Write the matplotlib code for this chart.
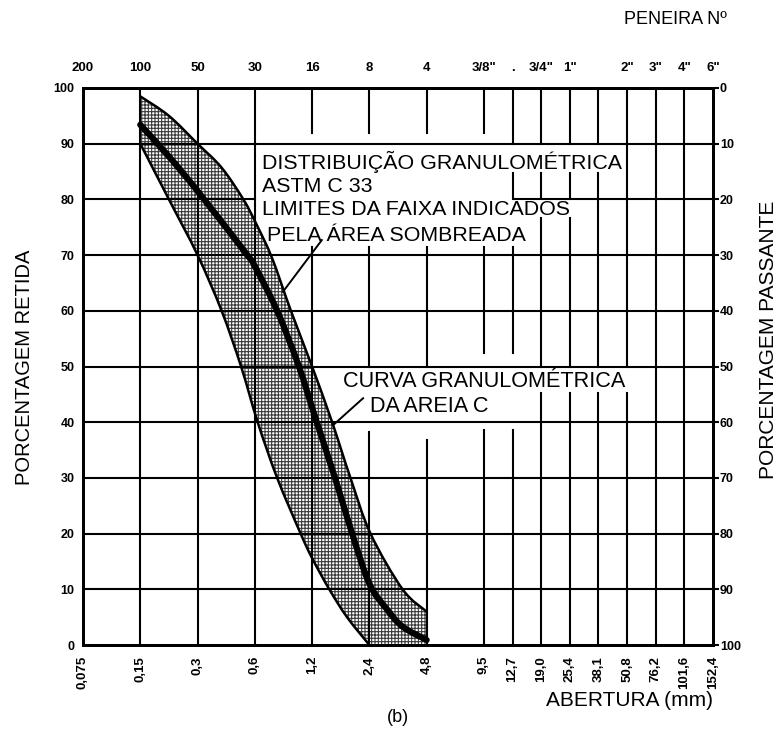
import matplotlib
matplotlib.use('Agg')
import matplotlib.pyplot as plt
from matplotlib.path import Path
from matplotlib.patches import PathPatch

plt.rcParams['font.family'] = ['Liberation Sans', 'DejaVu Sans']
plt.rcParams['hatch.linewidth'] = 0.8

# Aberturas das peneiras (mm) e numeracao ASTM correspondente
aberturas = ['0,075', '0,15', '0,3', '0,6', '1,2', '2,4', '4,8', '9,5', '12,7',
             '19,0', '25,4', '38,1', '50,8', '76,2', '101,6', '152,4']
peneiras = ['200', '100', '50', '30', '16', '8', '4', '3/8"', '.', '3/4"', '1"',
            '', '2"', '3"', '4"', '6"']
# posicao de cada peneira no eixo horizontal do grafico
posicoes = [0, 1, 2, 3, 4, 5, 6, 7, 7.5, 8, 8.5, 9, 9.5, 10, 10.5, 11]

# Limites da faixa ASTM C 33 (porcentagem retida acumulada)
sup_x = [1, 1.5, 2, 2.42, 2.8, 3.03, 3.3, 3.63, 4.0, 4.35, 4.67, 5.02, 5.58, 6]
sup_y = [98.5, 95, 90, 85.7, 80, 75.5, 69.5, 60, 50, 40, 30, 20, 10, 6]
inf_x = [1, 1.5, 2, 2.42, 2.76, 3.05, 3.39, 3.8, 4.0, 4.3, 4.61, 5]
inf_y = [90, 80, 70, 60, 50, 40, 30, 20, 15.6, 10, 5, 0]

# Curva granulometrica da areia C
areia_x = [1, 1.5, 2, 2.87, 3, 3.39, 3.77, 4.05, 4.4, 4.7, 5, 5.3, 5.58, 6]
areia_y = [93.4, 87.7, 81.5, 70, 68, 60, 50, 41, 30, 20, 11, 6.5, 3.3, 0.9]


def curva_suave(xs, ys):
    """Vertices e codigos de uma curva Bezier (Catmull-Rom) pelos pontos."""
    pts = list(zip(xs, ys))
    verts = [pts[0]]
    codes = [Path.MOVETO]
    for i in range(len(pts) - 1):
        p0 = pts[i - 1] if i > 0 else pts[i]
        p1, p2 = pts[i], pts[i + 1]
        p3 = pts[i + 2] if i + 2 < len(pts) else p2
        c1 = (p1[0] + (p2[0] - p0[0]) / 6, p1[1] + (p2[1] - p0[1]) / 6)
        c2 = (p2[0] - (p3[0] - p1[0]) / 6, p2[1] - (p3[1] - p1[1]) / 6)
        verts += [c1, c2, p2]
        codes += [Path.CURVE4] * 3
    return verts, codes


fig = plt.figure(figsize=(7.8, 7.33), dpi=100)
ax = fig.add_axes([83 / 780, 1 - 645 / 733, 630 / 780, 557 / 733])
ax.set_xlim(0, 11)
ax.set_ylim(0, 100)

# faixa sombreada: limite superior, desce em 4,8 mm e volta pelo limite inferior
v_sup, c_sup = curva_suave(sup_x, sup_y)
v_inf, c_inf = curva_suave(inf_x[::-1], inf_y[::-1])
verts = v_sup + [(6, 0)] + v_inf + [(0, 0)]
codes = c_sup + [Path.LINETO] + [Path.LINETO] + c_inf[1:] + [Path.CLOSEPOLY]
faixa = PathPatch(Path(verts, codes), facecolor='white', edgecolor='#3a3a3a',
                  hatch='+++++', linewidth=0, zorder=1)
ax.add_patch(faixa)

# grade: trechos visiveis das linhas verticais (interrompidas pelos textos)
cortes = {
    4: [(91.9, 100), (0, 71.4)],
    5: [(91.9, 100), (50, 71.4), (0, 38.2)],
    6: [(91.9, 100), (50, 71.4), (0, 36.8)],
    7: [(91.9, 100), (52.4, 71.4), (0, 38.6)],
    8: [(90, 100), (80.3, 84.7), (52.4, 71.4), (0, 38.6)],
    9: [(90, 100), (80.3, 84.7), (50, 76.7), (0, 45.2)],
    10: [(90, 100), (80.3, 84.7), (50, 76.7), (0, 45.2)],
    11: [(90, 100), (50, 84.7), (0, 45.2)],
    12: [(50, 100), (0, 45.2)],
}
for i, p in enumerate(posicoes[1:-1], start=1):
    for y0, y1 in cortes.get(i, [(0, 100)]):
        ax.plot([p, p], [y0, y1], color='black', lw=1.5, zorder=2)

for v in range(10, 100, 10):
    if v == 80:
        ax.plot([0, 3], [v, v], color='black', lw=1.5, zorder=2)
        ax.plot([7.5, 11], [v, v], color='black', lw=1.5, zorder=2)
    else:
        ax.plot([0, 11], [v, v], color='black', lw=1.5, zorder=2)

# limites e curva da areia
for xs, ys, lw in [(sup_x, sup_y, 1.8), (inf_x, inf_y, 1.8), (areia_x, areia_y, 4.5)]:
    vv, cc = curva_suave(xs, ys)
    ax.add_patch(PathPatch(Path(vv, cc), facecolor='none', edgecolor='black',
                           lw=lw, capstyle='round', zorder=3))

# textos e linhas de chamada
fs = 15.4
ax.text(3.13, 86.8, 'DISTRIBUIÇÃO GRANULOMÉTRICA', fontsize=fs, va='center')
ax.text(3.13, 82.3, 'ASTM C 33', fontsize=fs, va='center')
ax.text(3.13, 78.1, 'LIMITES DA FAIXA INDICADOS', fontsize=fs, va='center')
ax.text(3.21, 73.6, 'PELA ÁREA SOMBREADA', fontsize=fs, va='center')
ax.plot([4.17, 3.49], [72.7, 63.4], color='black', lw=1.4, zorder=3)

ax.text(4.54, 47.3, 'CURVA GRANULOMÉTRICA', fontsize=15.6, va='center')
ax.text(5.01, 42.8, 'DA AREIA C', fontsize=15.6, va='center')
ax.plot([4.89, 4.37], [44.3, 39.5], color='black', lw=1.4, zorder=3)

# eixo inferior: aberturas
ax.set_xticks(posicoes)
ax.set_xticklabels(aberturas, rotation=90, fontsize=9.5, fontweight='bold')
ax.set_yticks(range(0, 101, 10))
ax.set_yticklabels([str(v) for v in range(0, 101, 10)], fontsize=9, fontweight='bold')
ax.tick_params(axis='x', length=0, pad=8)
ax.tick_params(axis='y', length=0, pad=6)
for s in ax.spines.values():
    s.set_linewidth(2)

# eixo superior: numero da peneira
ax_top = ax.twiny()
ax_top.set_xlim(ax.get_xlim())
ax_top.set_xticks(posicoes)
ax_top.set_xticklabels(peneiras, fontsize=9.5, fontweight='bold')
ax_top.tick_params(axis='x', length=0, pad=10)

# eixo direito: porcentagem passante
ax_dir = ax.twinx()
ax_dir.set_ylim(100, 0)
ax_dir.set_yticks(range(0, 101, 10))
ax_dir.set_yticklabels([str(v) for v in range(0, 101, 10)], fontsize=9, fontweight='bold')
ax_dir.tick_params(axis='y', length=4, width=1.5, pad=1)
for a in (ax_top, ax_dir):
    for s in a.spines.values():
        s.set_linewidth(2)

fig.text(25 / 780, 1 - 367 / 733, 'PORCENTAGEM RETIDA', fontsize=14.5,
         rotation=90, ha='center', va='center')
fig.text(768 / 780, 1 - 340 / 733, 'PORCENTAGEM PASSANTE', fontsize=15,
         rotation=90, ha='center', va='center')

fig.text(727 / 780, 1 - 20 / 733, 'PENEIRA Nº', fontsize=13, ha='right', va='center')
fig.text(713 / 780, 1 - 700 / 733, 'ABERTURA (mm)', fontsize=15, ha='right', va='center')
fig.text(398 / 780, 1 - 718 / 733, '(b)', fontsize=13, ha='center', va='center')

fig.savefig('out.png', dpi=100)
